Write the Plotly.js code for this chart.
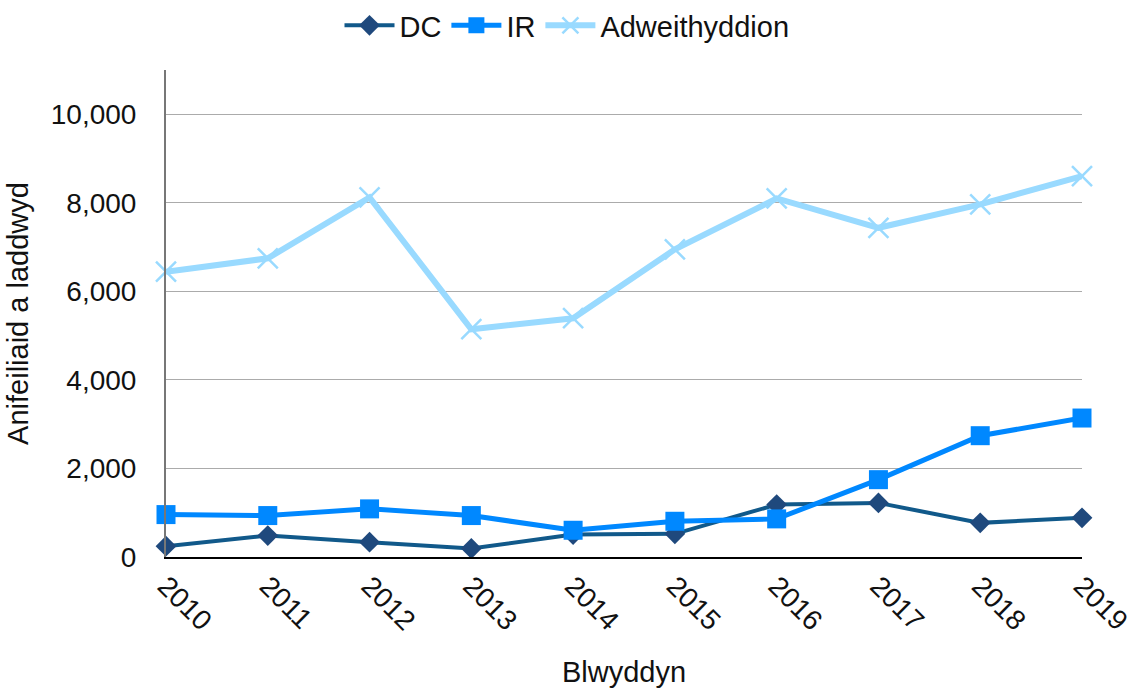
<!DOCTYPE html>
<html><head><meta charset="utf-8">
<script src="https://cdn.plot.ly/plotly-3.0.1.min.js"></script>
<style>html,body{margin:0;padding:0;background:#fff}#chart{width:1134px;height:692px}</style>
</head><body><div id="chart"></div>
<script>
const years = ['2010','2011','2012','2013','2014','2015','2016','2017','2018','2019'];
const dc = [244, 485, 334, 192, 507, 523, 1184, 1222, 771, 884];
const ir = [958, 936, 1087, 936, 604, 807, 861, 1747, 2740, 3139];
const adweithyddion = [6444, 6746, 8122, 5145, 5393, 6949, 8099, 7436, 7964, 8602];
const yTicks = [0, 2000, 4000, 6000, 8000, 10000];
const yTickText = ['0', '2,000', '4,000', '6,000', '8,000', '10,000'];

const traces = [
  {x: years, y: dc, name: 'DC', type: 'scatter', mode: 'lines+markers',
   line: {color: '#11598A', width: 4}, marker: {symbol: 'diamond', size: 16, color: '#1F497D'}, cliponaxis: false},
  {x: years, y: ir, name: 'IR', type: 'scatter', mode: 'lines+markers',
   line: {color: '#0088FF', width: 5}, marker: {symbol: 'square', size: 19, color: '#0088FF'}, cliponaxis: false},
  {x: years, y: adweithyddion, name: 'Adweithyddion', type: 'scatter', mode: 'lines+markers',
   line: {color: '#99DAFF', width: 6}, marker: {symbol: 'x-thin-open', size: 20, color: '#99DAFF', line: {width: 2.5, color: '#99DAFF'}}, cliponaxis: false}
];

const layout = {
  width: 1134, height: 692,
  margin: {l: 166, r: 52, t: 70, b: 135},
  paper_bgcolor: '#fff', plot_bgcolor: '#fff',
  font: {family: 'Liberation Sans, Arial, sans-serif', size: 28, color: '#111'},
  showlegend: true,
  legend: {orientation: 'h', x: 0.5, xanchor: 'center', xref: 'container', y: 1, yanchor: 'top', yref: 'container',
           font: {size: 29}, itemwidth: 50, tracegroupgap: 0},
  xaxis: {type: 'category', range: [0, 9], tickangle: 45, showgrid: false,
          showline: true, linecolor: '#000', linewidth: 1.5, ticks: '', zeroline: false,
          tickfont: {size: 28},
          title: {text: 'Blwyddyn', font: {size: 29}, standoff: 26}},
  yaxis: {range: [0, 11000], tickvals: yTicks, ticktext: yTickText, showgrid: true,
          gridcolor: '#ababab', gridwidth: 1, showline: true, linecolor: '#777', linewidth: 2,
          zeroline: false, ticks: '', ticklen: 0, tickfont: {size: 28}, ticklabelstandoff: 22,
          title: {text: 'Anifeiliaid a laddwyd', font: {size: 29}, standoff: 14}}
};
Plotly.newPlot('chart', traces, layout, {displayModeBar: false, staticPlot: true});
</script></body></html>
